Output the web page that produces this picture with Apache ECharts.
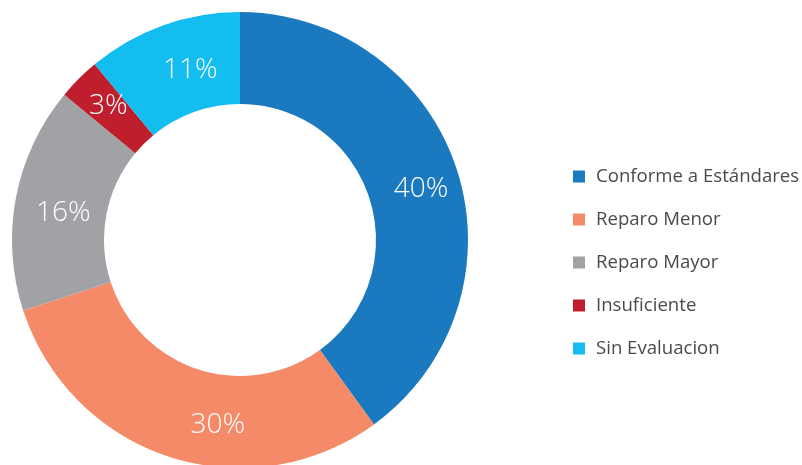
<!DOCTYPE html>
<html>
<head>
<meta charset="utf-8">
<script src="https://cdn.jsdelivr.net/npm/echarts@6/dist/echarts.min.js"></script>
<style>
  html, body { margin: 0; padding: 0; background: #fff; }
  #chart { width: 802px; height: 465px; }
</style>
</head>
<body>
<div id="chart"></div>
<script>
// categorias y porcentajes
var categories = ['Conforme a Estándares', 'Reparo Menor', 'Reparo Mayor', 'Insuficiente', 'Sin Evaluacion'];
var values = [40, 30, 16, 3, 11];
var colors = ['#1B79BF', '#F48A67', '#A0A2A5', '#BF1E2D', '#13BDEF'];

function draw_donut() {
    var chart = echarts.init(document.getElementById('chart'));
    // ajuste fino de la posicion de las etiquetas
    var labelOffsets = [[5, 6], [35, 9], [5, 8], [-1, -3], [13, 4]];
    var seriesData = [];
    for (var i = 0; i < categories.length; i++) {
        seriesData.push({
            name: categories[i],
            value: values[i],
            label: {offset: labelOffsets[i]}
        });
    }

    var option = {
        color: colors,
        animation: false,
        legend: {
            orient: 'vertical',
            left: 568,
            top: 162,
            itemWidth: 12,
            itemHeight: 12,
            itemGap: 24,
            icon: 'rect',
            textStyle: {
                fontFamily: 'Open Sans',
                fontSize: 18.6,
                color: '#4a4a4a',
                padding: [0, 0, 0, 6]
            },
            data: categories
        },
        series: [
            {
                name: 'Estado',
                type: 'pie',
                center: [240, 240],
                radius: [136, 228],
                startAngle: 90,
                clockwise: true,
                label: {
                    show: true,
                    position: 'inside',
                    formatter: '{c}%',
                    color: '#fff',
                    fontFamily: 'Open Sans',
                    fontWeight: 300,
                    fontSize: 28
                },
                labelLine: {show: false},
                itemStyle: {borderWidth: 0},
                emphasis: {disabled: true},
                data: seriesData
            }
        ]
    };
    chart.setOption(option);
}

draw_donut();
</script>
</body>
</html>
